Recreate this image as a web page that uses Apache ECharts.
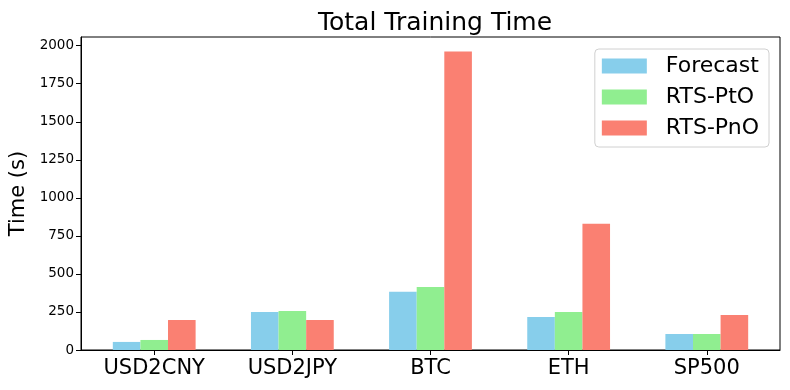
<!DOCTYPE html>
<html>
<head>
<meta charset="utf-8">
<script src="https://cdn.jsdelivr.net/npm/echarts@6/dist/echarts.min.js"></script>
<style>
  html, body { margin: 0; padding: 0; background: #fff; }
  #chart { width: 790px; height: 390px; }
</style>
</head>
<body>
<div id="chart"></div>
<script>
const DATASETS = ['USD2CNY', 'USD2JPY', 'BTC', 'ETH', 'SP500'];
const forecast = [53, 250, 382, 217, 105];
const rtsPtO = [66, 257, 414, 250, 105];
const rtsPnO = [197, 197, 1961, 829, 230];
const Y_TICKS = [0, 250, 500, 750, 1000, 1250, 1500, 1750, 2000];

const FONT = 'DejaVu Sans';
const chart = echarts.init(document.getElementById('chart'));

const toPoints = (vals) => vals.map((v, i) => [i, v]);
const barSeries = (name, vals, color) => ({
  name,
  type: 'bar',
  data: toPoints(vals),
  barWidth: 27.6,
  barGap: '0%',
  itemStyle: { color },
});

const option = {
  animation: false,
  textStyle: { fontFamily: FONT },
  title: {
    text: 'Total Training Time',
    left: 313,
    top: 6,
    textStyle: { fontFamily: FONT, fontSize: 25, fontWeight: 'normal', color: '#000' },
  },
  legend: {
    orient: 'vertical',
    right: 21,
    top: 49,
    itemWidth: 45,
    itemHeight: 15,
    itemGap: 9,
    padding: [6, 10, 8, 7],
    backgroundColor: '#fff',
    borderColor: '#d0d0d0',
    borderWidth: 1,
    borderRadius: 4,
    icon: 'rect',
    textStyle: { fontFamily: FONT, fontSize: 22, color: '#000', lineHeight: 22, padding: [0, 0, 0, 14] },
    data: ['Forecast', 'RTS-PtO', 'RTS-PnO'],
  },
  grid: {
    left: 81, right: 10, top: 37, bottom: 40,
    outerBoundsMode: 'none',
    containLabel: false,
    show: true, borderColor: '#000', borderWidth: 1,
  },
  xAxis: {
    type: 'value',
    min: -0.53,
    max: 4.53,
    splitLine: { show: false },
    axisLine: { show: true, onZero: false, lineStyle: { color: '#000' } },
    axisTick: { show: true, inside: false, length: 5, customValues: [0, 1, 2, 3, 4], lineStyle: { color: '#000' } },
    axisLabel: {
      customValues: [0, 1, 2, 3, 4],
      formatter: (v) => DATASETS[Math.round(v)] || '',
      fontFamily: FONT, fontSize: 21, color: '#000', margin: 8,
    },
  },
  yAxis: {
    type: 'value',
    min: 0,
    max: 2057,
    name: 'Time (s)',
    nameLocation: 'middle',
    nameGap: 48,
    nameTextStyle: { fontFamily: FONT, fontSize: 21, color: '#000' },
    splitLine: { show: false },
    axisLine: { show: true, onZero: false, lineStyle: { color: '#000' } },
    axisTick: { show: true, inside: false, length: 5, customValues: Y_TICKS, lineStyle: { color: '#000' } },
    axisLabel: {
      customValues: Y_TICKS,
      formatter: (v) => String(v),
      fontFamily: FONT, fontSize: 13.5, color: '#000', margin: 7,
    },
  },
  series: [
    barSeries('Forecast', forecast, '#87CEEB'),
    barSeries('RTS-PtO', rtsPtO, '#90EE90'),
    barSeries('RTS-PnO', rtsPnO, '#FA8072'),
  ],
};

chart.setOption(option);
window.addEventListener('resize', () => chart.resize());
</script>
</body>
</html>
